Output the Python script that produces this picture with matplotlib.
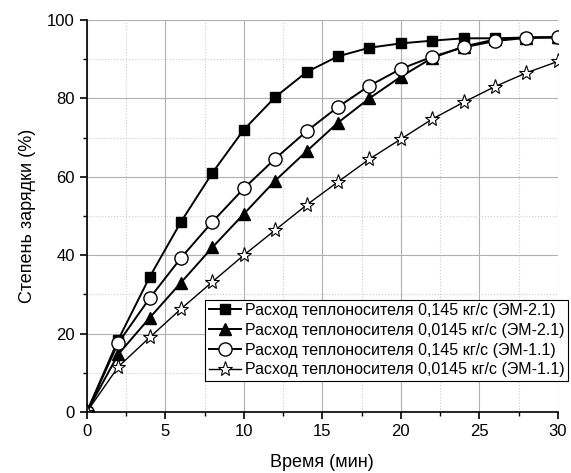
import numpy as np
import matplotlib
matplotlib.use("Agg")
import matplotlib.pyplot as plt
from matplotlib.ticker import MultipleLocator

plt.rcParams['font.family'] = ['Liberation Sans', 'DejaVu Sans']

# time, min
t = [0, 2, 4, 6, 8, 10, 12, 14, 16, 18, 20, 22, 24, 26, 28, 30]

# charge degree, %
em21_fast = [0, 18.4, 34.4, 48.5, 61.0, 72.0, 80.3, 86.7, 90.7, 92.9, 94.0, 94.7, 95.3, 95.3, 95.5, 95.5]
em21_slow = [0, 14.7, 24.0, 33.0, 42.0, 50.5, 59.0, 66.5, 73.8, 80.0, 85.5, 90.3, 93.2, 95.0, 95.5, 95.6]
em11_fast = [0, 17.6, 29.0, 39.3, 48.5, 57.0, 64.6, 71.6, 77.8, 83.2, 87.5, 90.6, 93.0, 94.6, 95.4, 95.6]
em11_slow = [0, 11.5, 19.0, 26.3, 33.2, 40.0, 46.4, 52.8, 58.7, 64.5, 69.6, 74.7, 79.0, 83.0, 86.5, 89.4]

labels = [
    "Расход теплоносителя 0,145 кг/с (ЭМ-2.1)",
    "Расход теплоносителя 0,0145 кг/с (ЭМ-2.1)",
    "Расход теплоносителя 0,145 кг/с (ЭМ-1.1)",
    "Расход теплоносителя 0,0145 кг/с (ЭМ-1.1)",
]

fig = plt.figure(figsize=(5.71, 4.73), dpi=100)
ax = fig.add_axes([0.152, 0.129, 0.825, 0.829])

ax.plot(t, em21_fast, "-s", color="black", lw=1.4, ms=7.5, mfc="black", label=labels[0])
ax.plot(t, em21_slow, "-^", color="black", lw=1.4, ms=8.5, mfc="black", label=labels[1])
ax.plot(t, em11_fast, "-o", color="black", lw=1.4, ms=9.5, mfc="white", label=labels[2])
ax.plot(t, em11_slow, "-*", color="black", lw=1.0, ms=11, mfc="white", mew=0.8, label=labels[3])

ax.set_xlim(0, 30)
ax.set_ylim(0, 100)
ax.xaxis.set_major_locator(MultipleLocator(5))
ax.xaxis.set_minor_locator(MultipleLocator(2.5))
ax.yaxis.set_major_locator(MultipleLocator(20))
ax.yaxis.set_minor_locator(MultipleLocator(10))
ax.grid(which="major", color="#b0b0b0", lw=0.8, ls="-")
ax.grid(which="minor", color="#cccccc", lw=0.8, ls=":")
ax.set_axisbelow(True)

for s in ["top", "right"]:
    ax.spines[s].set_visible(False)
for s in ["left", "bottom"]:
    ax.spines[s].set_linewidth(1.2)
ax.tick_params(which="major", direction="out", length=5, width=1.2, labelsize=12)
ax.tick_params(which="minor", direction="out", length=3, width=1.0)

ax.set_xlabel("Время (мин)", fontsize=13, labelpad=11)
ax.set_ylabel("Степень зарядки (%)", fontsize=13, labelpad=8)

leg = ax.legend(loc="lower right", bbox_to_anchor=(1.022, 0.08), fontsize=11.5,
                frameon=True, fancybox=False, framealpha=1, edgecolor="black",
                handlelength=2.0, handletextpad=0.3, labelspacing=0.3,
                borderpad=0.2, borderaxespad=0)
leg.get_frame().set_linewidth(0.8)

fig.savefig("out.png", dpi=100)
